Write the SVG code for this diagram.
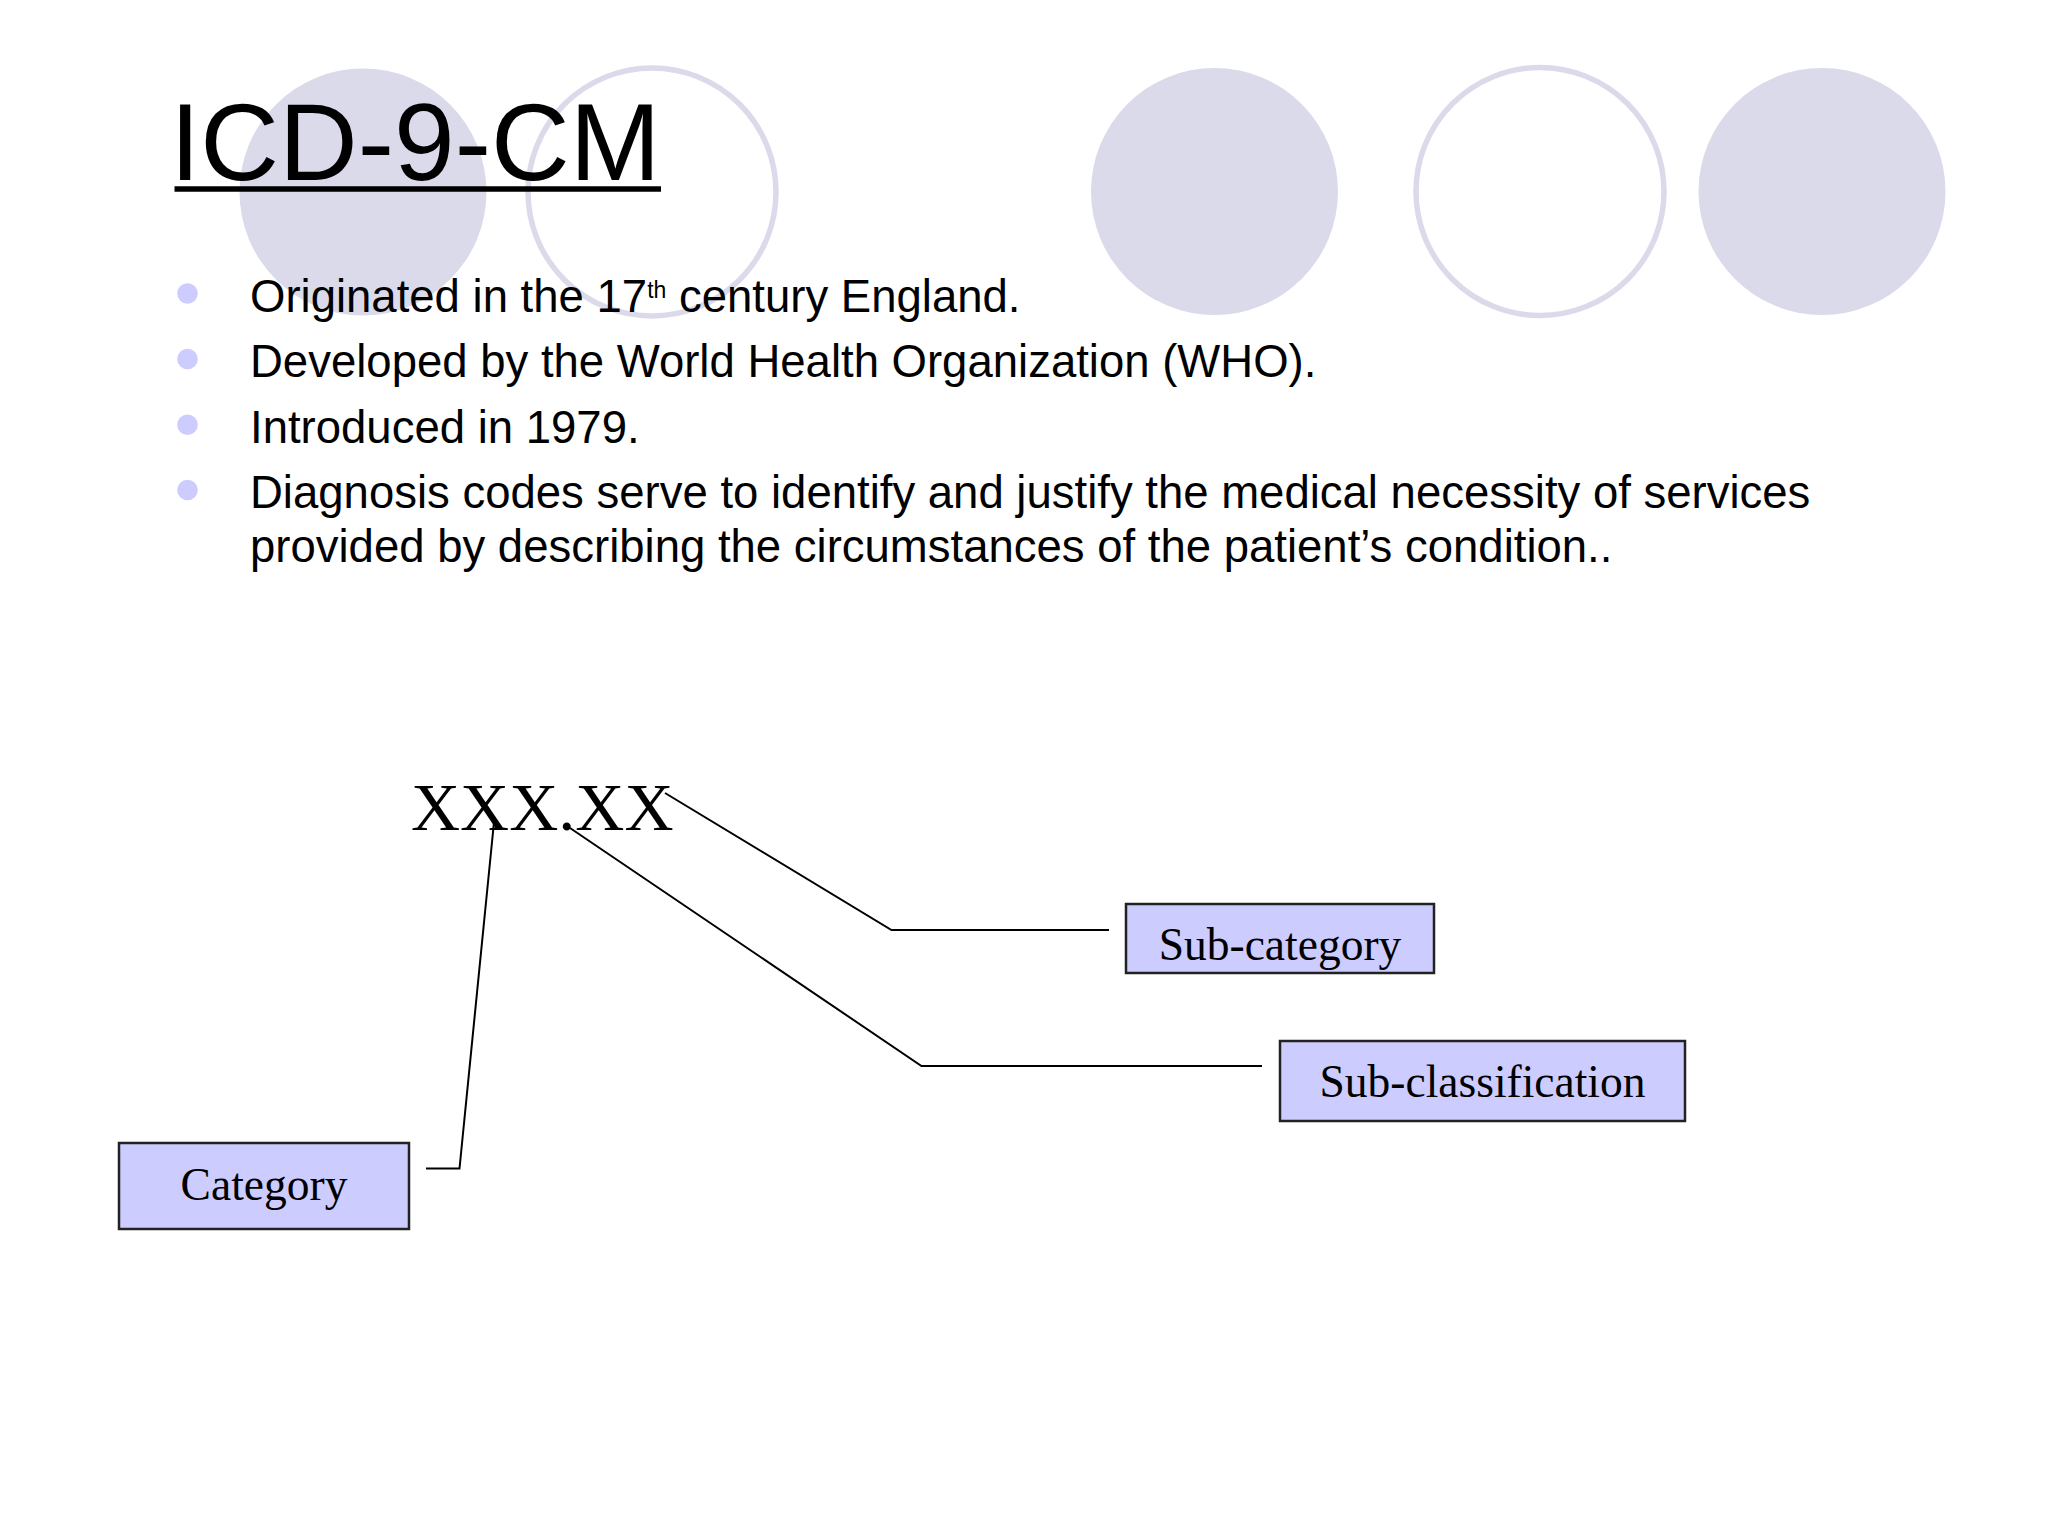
<svg xmlns="http://www.w3.org/2000/svg" width="2048" height="1536" viewBox="0 0 2048 1536">
<defs>
<style>
.deco-fill{fill:#dbdaeb;}
.deco-ring{fill:none;stroke:#dbdaeb;stroke-width:5.5;}
.title{font-family:"Liberation Sans",Arial,sans-serif;font-size:109px;fill:#000;}
.body{font-family:"Liberation Sans",Arial,sans-serif;font-size:45.5px;fill:#000;}
.bullet{fill:#ccccff;}
.code{font-family:"Liberation Serif","Times New Roman",serif;font-size:68px;fill:#000;}
.box{fill:#ccccff;stroke:#222;stroke-width:2.5;}
.label{font-family:"Liberation Serif","Times New Roman",serif;font-size:45.5px;fill:#000;text-anchor:middle;}
.conn{fill:none;stroke:#000;stroke-width:2;}
</style>
</defs>
<rect x="0" y="0" width="2048" height="1536" fill="#ffffff"/>
<g id="decoration">
<circle class="deco-fill" cx="363" cy="192" r="123.5"/>
<circle class="deco-ring" cx="652" cy="192" r="124"/>
<circle class="deco-fill" cx="1214.5" cy="191.5" r="123.5"/>
<circle class="deco-ring" cx="1540" cy="191.5" r="124"/>
<circle class="deco-fill" cx="1822" cy="191.5" r="123.5"/>
</g>
<g id="title">
<text class="title" x="170" y="180">ICD-9-CM</text>
<line x1="174.5" y1="189" x2="661" y2="189" stroke="#000" stroke-width="5.5"/>
</g>
<g id="bullets">
<circle class="bullet" cx="187.5" cy="293.5" r="10.3"/>
<circle class="bullet" cx="187.5" cy="359" r="10.3"/>
<circle class="bullet" cx="187.5" cy="424.7" r="10.3"/>
<circle class="bullet" cx="187.5" cy="490" r="10.3"/>
<text class="body" x="250" y="311.7">Originated in the 17<tspan font-size="23px" dy="-13.4">th</tspan><tspan dy="13.4"> century England.</tspan></text>
<text class="body" x="250" y="377">Developed by the World Health Organization (WHO).</text>
<text class="body" x="250" y="442.7">Introduced in 1979.</text>
<text class="body" x="250" y="508">Diagnosis codes serve to identify and justify the medical necessity of services</text>
<text class="body" x="250" y="561.7">provided by describing the circumstances of the patient’s condition..</text>
</g>
<g id="code">
<text class="code" x="411" y="830">XXX.XX</text>
</g>
<g id="connectors">
<polyline class="conn" points="494,822 459.5,1168.5 426,1168.5"/>
<polyline class="conn" points="665,793 891.5,930 1109,930"/>
<polyline class="conn" points="570,828 921.5,1066 1262,1066"/>
</g>
<g id="node-category">
<rect class="box" x="119" y="1143" width="290" height="86"/>
<text class="label" x="264" y="1200">Category</text>
</g>
<g id="node-subcategory">
<rect class="box" x="1126" y="904" width="308" height="69"/>
<text class="label" x="1280" y="960">Sub-category</text>
</g>
<g id="node-subclassification">
<rect class="box" x="1280" y="1041" width="405" height="80"/>
<text class="label" x="1482.5" y="1097">Sub-classification</text>
</g>
</svg>
